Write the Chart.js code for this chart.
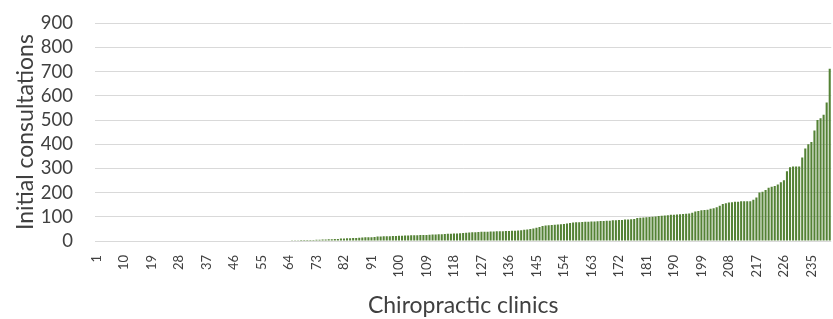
<!DOCTYPE html>
<html>
<head>
<meta charset="utf-8">
<script src="https://cdn.jsdelivr.net/npm/chart.js@4/dist/chart.umd.min.js"></script>
<style>
  html, body { margin: 0; padding: 0; background: #ffffff; overflow: hidden; width: 833px; height: 319px; }
  #wrap { position: relative; width: 833px; height: 327px; margin-top: -8px; }
</style>
</head>
<body>
<div id="wrap"><canvas id="c"></canvas></div>
<script>
// Initial consultations per clinic (sorted ascending), clinics 1..241
const consultations = [
  0,0,0,0,0,0,0,0,0,0, 0,0,0,0,0,0,0,0,0,0,
  0,0,0,0,0,0,0,0,0,0, 0,0,0,0,0,0,0,0,0,0,
  0,0,0,0,0,0,0,0,0,0, 0,0,0,0,0,0,0,0,0,0,
  0,0,0,0,
  3,3,3,4,4,4,4,4,5,5,
  6,6,7,7,8,8,
  10,10,11,11,12,12,13,
  14,15,15,16,17,
  19,19,20,20,20,21,21,
  22,22,23,23,24,24,24,25,25,25,26,
  27,27,28,28,29,
  30,30,31,31,32,
  33,34,35,36,36,37,
  38,38,38,39,39,40,40,
  40,41,41,42,42,43,44,
  46,48,50,52,55,
  58,62,64,65,66,
  67,68,69,70,72,74,
  76,77,78,79,80,80,81,81,
  82,83,83,84,84,
  86,86,87,87,
  89,89,90,91,
  95,96,97,98,
  99,100,101,
  103,104,105,106,
  108,109,110,111,
  112,113,114,
  117,
  122,124,
  127,128,129,
  133,135,
  140,
  146,
  153,156,
  159,160,
  162,
  162,164,164,164,164,170,180,200,204,211,
  220,224,227,234,243,251,288,305,308,308,
  308,345,382,400,409,457,500,507,522,572,
  712
];
const clinics = consultations.map((v, i) => String(i + 1));
const yTickMax = 900;
const yTickStep = 100;
const xLabelEvery = 9;
const xTitle = "Chiropractic clinics";
const yTitle = "Initial consultations";

const FONT = "Lato, 'Open Sans', sans-serif";

new Chart(document.getElementById('c'), {
  type: 'bar',
  data: {
    labels: clinics,
    datasets: [{
      data: consultations,
      backgroundColor: '#548235',
      borderWidth: 0,
      barPercentage: 0.68,
      categoryPercentage: 1.0
    }]
  },
  options: {
    responsive: true,
    maintainAspectRatio: false,
    animation: false,
    events: [],
    layout: { padding: { left: 12, right: 0, top: 0, bottom: 0 } },
    plugins: {
      legend: { display: false },
      tooltip: { enabled: false }
    },
    scales: {
      x: {
        grid: { display: false },
        border: { display: false },
        afterFit: function (scale) { scale.height = 78; },
        ticks: {
          autoSkip: false,
          maxRotation: 90,
          minRotation: 90,
          color: '#404040',
          padding: 6,
          font: { family: FONT, size: 13 },
          callback: function (value, index) {
            return index % xLabelEvery === 0 ? this.getLabelForValue(value) : null;
          }
        },
        title: {
          display: true,
          text: xTitle,
          color: '#404040',
          font: { family: FONT, size: 23 },
          padding: { top: 2, bottom: 0 }
        }
      },
      y: {
        min: 0,
        max: yTickMax,
        afterFit: function (scale) { scale.width = 83; },
        grid: { color: '#d9d9d9', lineWidth: 1, drawTicks: false },
        border: { display: false },
        ticks: {
          autoSkip: false,
          stepSize: yTickStep,
          color: '#404040',
          padding: 22,
          font: { family: FONT, size: 18.5, lineHeight: 1.0 }
        },
        title: {
          display: true,
          text: yTitle,
          color: '#404040',
          font: { family: FONT, size: 23 },
          padding: { top: 0, bottom: 2 }
        }
      }
    }
  }
});
</script>
</body>
</html>
